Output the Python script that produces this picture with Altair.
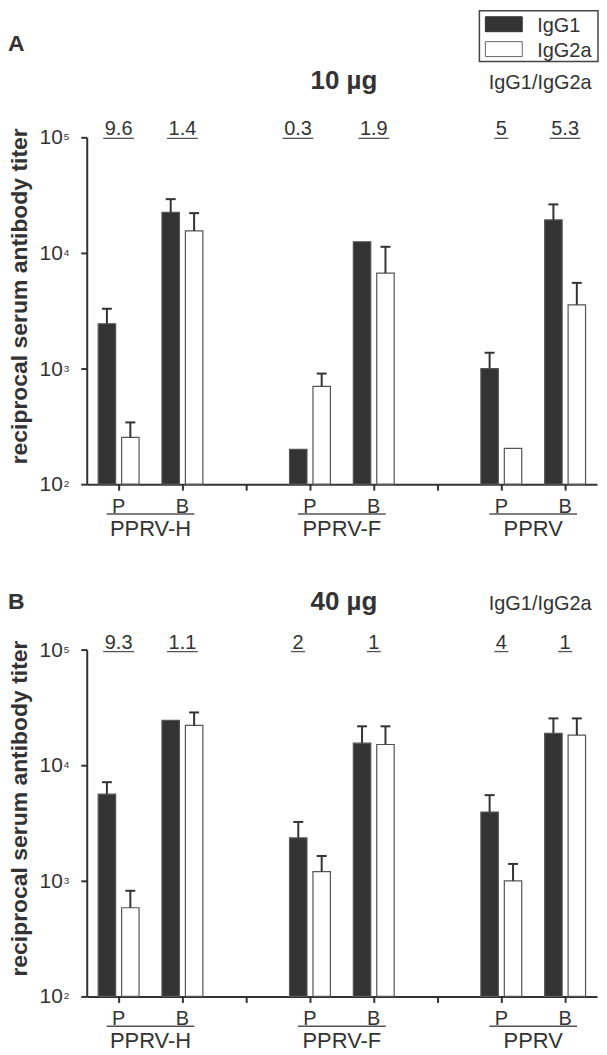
import altair as alt
import pandas as pd

# ---------------- data ----------------
antigens = ["PPRV-H", "PPRV-F", "PPRV"]
routes = ["P", "B"]
isotypes = ["IgG1", "IgG2a"]

# 10 µg  (order: H-P, H-B, F-P, F-B, V-P, V-B)
igg1_10 = [2440, 22500, 200, 12500, 1000, 19300]
igg1_10_err = [3290, 29200, None, None, 1370, 26300]
igg2a_10 = [254, 15500, 700, 6700, 204, 3560]
igg2a_10_err = [342, 22100, 905, 11300, None, 5510]
ratio_10 = ["9.6", "1.4", "0.3", "1.9", "5", "5.3"]

# 40 µg
igg1_40 = [5620, 24400, 2350, 15500, 3930, 18900]
igg1_40_err = [7130, None, 3230, 21700, 5510, 25400]
igg2a_40 = [585, 22100, 1200, 15100, 1000, 18200]
igg2a_40_err = [820, 28600, 1640, 21700, 1400, 25400]
ratio_40 = ["9.3", "1.1", "2", "1", "4", "1"]

y_ticks = [100, 1000, 10000, 100000]
y_tick_base = ["10", "10", "10", "10"]
y_tick_exp = ["2", "3", "4", "5"]
y_title = "reciprocal serum antibody titer"

# ---------------- layout helpers ----------------
W, H = 512, 348
FONT = "Liberation Sans"
INK = "#333333"
LINE = "#555555"

keys = [f"{ag}|{r}" for ag in antigens for r in routes]
slots = []
for i, ag in enumerate(antigens):
    slots += [f"{ag}|P", f"{ag}|B"]
    if i < len(antigens) - 1:
        slots.append(f"gap{i}")

xscale = alt.Scale(domain=slots, paddingInner=0, paddingOuter=0)
xoscale = alt.Scale(domain=isotypes, paddingInner=0.255, paddingOuter=0.489)
yscale = alt.Scale(type="log", domain=[100, 100000], nice=False)

x_axis = alt.Axis(title=None, labels=False)
y_axis = alt.Axis(values=y_ticks, labels=False, titleY=H / 2 - 15)


def XK(field="key:N"):
    return alt.X(field, scale=xscale, axis=x_axis, title=None)


def YV(field):
    return alt.Y(field, scale=yscale, axis=y_axis, title=y_title)


def text_width(s, fs):
    return sum(0.278 if ch == "." else 0.556 for ch in s) * fs


def panel(letter, dose, g1, g1e, g2, g2e, ratios, letter_y, title_y, ratio_y, legend):
    rows = []
    for iso, vals, errs in (("IgG1", g1, g1e), ("IgG2a", g2, g2e)):
        for k, v, e in zip(keys, vals, errs):
            rows.append({"key": k, "iso": iso, "value": v, "err": e})
    df = pd.DataFrame(rows)

    XO = alt.XOffset("iso:N", scale=xoscale)

    bars = alt.Chart(df).mark_bar(stroke=LINE, strokeWidth=1.2).encode(
        x=XK(), xOffset=XO,
        y=YV("value:Q"),
        y2=alt.datum(100),
        fill=alt.Fill("iso:N", scale=alt.Scale(domain=isotypes, range=[INK, "white"]), legend=None),
    )
    errdf = alt.Chart(df).transform_filter("isValid(datum.err)")
    err_line = errdf.mark_rule(color=INK, strokeWidth=2).encode(
        x=XK(), xOffset=XO,
        y=YV("value:Q"),
        y2="err:Q",
    )
    err_cap = errdf.mark_tick(orient="horizontal", color=INK, size=10, thickness=2, opacity=1).encode(
        x=XK(), xOffset=XO,
        y=YV("err:Q"),
    )

    # y tick labels 10^n drawn through the y scale
    tdf = pd.DataFrame({"v": y_ticks, "base": y_tick_base, "exp": y_tick_exp})
    ylab = alt.Chart(tdf).mark_text(
        fontSize=21, align="right", baseline="alphabetic", dy=7, color=INK
    ).encode(y=YV("v:Q"), x=alt.value(-24), text="base:N")
    yexp = alt.Chart(tdf).mark_text(
        fontSize=10, align="left", baseline="alphabetic", dy=3, color=INK
    ).encode(y=YV("v:Q"), x=alt.value(-23), text="exp:N")

    # P / B category labels under the x axis
    kdf = pd.DataFrame({"key": keys, "route": [k.split("|")[1] for k in keys]})
    xlab = alt.Chart(kdf).mark_text(
        fontSize=20, baseline="alphabetic", color=INK
    ).encode(x=XK(), y=alt.value(H + 29), text="route:N")

    rdf = pd.DataFrame({
        "key": keys,
        "label": ratios,
        "ulen": [text_width(r, 20) + 3 for r in ratios],
    })
    rbase = alt.Chart(rdf)
    nudged = "datum.key == 'PPRV-F|P'"
    rtext = rbase.transform_filter("!(" + nudged + ")").mark_text(
        fontSize=20, baseline="alphabetic", color=INK
    ).encode(x=XK(), y=alt.value(ratio_y), text="label:N")
    rtext2 = rbase.transform_filter(nudged).mark_text(
        fontSize=20, baseline="alphabetic", color=INK, dx=-12
    ).encode(x=XK(), y=alt.value(ratio_y), text="label:N")
    rline = rbase.transform_filter("!(" + nudged + ")").mark_tick(
        orient="horizontal", color=LINE, thickness=1.3, opacity=1
    ).encode(x=XK(), y=alt.value(ratio_y + 3), size=alt.Size("ulen:Q", scale=None))
    rline2 = rbase.transform_filter(nudged).mark_tick(
        orient="horizontal", color=LINE, thickness=1.3, opacity=1, xOffset=-12
    ).encode(x=XK(), y=alt.value(ratio_y + 3), size=alt.Size("ulen:Q", scale=None))

    gdf = pd.DataFrame({
        "antigen": antigens,
        "pkey": [f"{a}|P" for a in antigens],
        "bkey": [f"{a}|B" for a in antigens],
    })
    gtext = alt.Chart(gdf).mark_text(fontSize=22, baseline="alphabetic", color=INK, dx=W / 16).encode(
        x=XK("pkey:N"), y=alt.value(H + 52), text="antigen:N"
    )
    gline = alt.Chart(gdf).mark_rule(color=LINE, strokeWidth=1.5, xOffset=-12, x2Offset=12).encode(
        x=XK("pkey:N"), x2="bkey:N", y=alt.value(H + 30)
    )

    one = pd.DataFrame({"t": [0]})
    hdr_letter = alt.Chart(one).mark_text(
        text=letter, fontSize=23, fontWeight="bold", align="left", baseline="alphabetic", color=INK
    ).encode(x=alt.value(-79), y=alt.value(letter_y))
    hdr_dose = alt.Chart(one).mark_text(
        text=dose, fontSize=26, fontWeight="bold", align="center", baseline="alphabetic", color=INK
    ).encode(x=alt.value(W / 2 + 2), y=alt.value(title_y))
    hdr_ratio = alt.Chart(one).mark_text(
        text="IgG1/IgG2a", fontSize=20, align="center", baseline="alphabetic", color=INK
    ).encode(x=alt.value(455), y=alt.value(title_y))

    layers = [bars, err_line, err_cap, ylab, yexp, xlab, rtext, rtext2, rline, rline2,
              gline, gtext, hdr_letter, hdr_dose, hdr_ratio]

    if legend:
        frame = alt.Chart(one).mark_rect(fill="white", stroke="#444444", strokeWidth=1.5).encode(
            x=alt.value(394), x2=alt.value(513), y=alt.value(-127), y2=alt.value(-76)
        )
        layers.append(frame)
        for i, (iso, fill) in enumerate(zip(isotypes, [INK, "white"])):
            top = -121 + i * 25
            sw = alt.Chart(one).mark_rect(fill=fill, stroke="#666666" if i else INK, strokeWidth=1).encode(
                x=alt.value(400), x2=alt.value(437), y=alt.value(top), y2=alt.value(top + 15)
            )
            lb = alt.Chart(one).mark_text(
                text=iso, fontSize=20, align="left", baseline="alphabetic", color=INK
            ).encode(x=alt.value(452), y=alt.value(top + 15))
            layers += [sw, lb]

    return alt.layer(*layers).properties(width=W, height=H)


top = panel("A", "10 µg", igg1_10, igg1_10_err, igg2a_10, igg2a_10_err, ratio_10,
            letter_y=-87, title_y=-48, ratio_y=-2, legend=True)
bottom = panel("B", "40 µg", igg1_40, igg1_40_err, igg2a_40, igg2a_40_err, ratio_40,
               letter_y=-41, title_y=-40, ratio_y=-1, legend=False)

chart = alt.vconcat(top, bottom, spacing=166, bounds="flush").properties(
    padding=0
).configure_view(strokeWidth=0).configure_axis(
    grid=False, titleFont=FONT, titleColor=INK,
    tickSize=6, tickWidth=2, domainWidth=2, domainColor=INK, tickColor=INK,
).configure_axisY(
    titleFontSize=23, titleFontWeight="bold", titlePadding=48,
).configure_text(font=FONT)

chart.save("out.html", embed_options={"renderer": "svg", "actions": False})
